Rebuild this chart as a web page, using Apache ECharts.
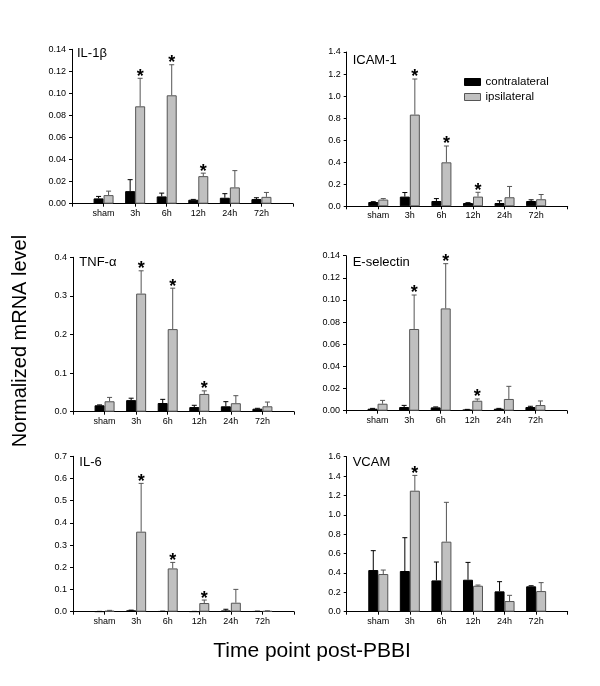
<!DOCTYPE html>
<html><head><meta charset="utf-8">
<script src="https://cdn.jsdelivr.net/npm/echarts@6/dist/echarts.min.js"></script>
<style>html,body{margin:0;padding:0;background:#fff}#c{width:600px;height:686px}</style>
</head><body><div id="c"></div>
<script>
const categories = ['sham', '3h', '6h', '12h', '24h', '72h'];

// IL-1beta
const il1bContra    = [0.0048, 0.0114, 0.0066, 0.0036, 0.0054, 0.0042];
const il1bContraErr = [0.0018, 0.0104, 0.0030, 0.0003, 0.0037, 0.0012];
const il1bIpsi      = [0.0078, 0.0883, 0.0983, 0.0250, 0.0148, 0.0062];
const il1bIpsiErr   = [0.0036, 0.0254, 0.0277, 0.0027, 0.0152, 0.0040];
const il1bSig       = [0, 1, 1, 1, 0, 0];
const il1bTicks     = [0, 0.14, 0.02, 2];

// ICAM-1
const icamContra    = [0.039, 0.088, 0.048, 0.030, 0.030, 0.048];
const icamContraErr = [0.003, 0.037, 0.022, 0.003, 0.020, 0.011];
const icamIpsi      = [0.061, 0.832, 0.399, 0.088, 0.082, 0.064];
const icamIpsiErr   = [0.009, 0.323, 0.148, 0.039, 0.098, 0.043];
const icamSig       = [0, 1, 1, 1, 0, 0];
const icamTicks     = [0, 1.4, 0.2, 1];

// TNF-alpha
const tnfContra     = [0.0166, 0.030, 0.0225, 0.012, 0.014, 0.0078];
const tnfContraErr  = [0.0010, 0.005, 0.0095, 0.0046, 0.012, 0.0010];
const tnfIpsi       = [0.027, 0.306, 0.214, 0.046, 0.022, 0.014];
const tnfIpsiErr    = [0.010, 0.059, 0.106, 0.008, 0.0195, 0.011];
const tnfSig        = [0, 1, 1, 1, 0, 0];
const tnfTicks      = [0, 0.4, 0.1, 1];

// E-selectin
const eselContra    = [0.0018, 0.0033, 0.0030, 0.0010, 0.0018, 0.0033];
const eselContraErr = [0.0003, 0.0015, 0.0004, 0.0002, 0.0003, 0.0007];
const eselIpsi      = [0.0063, 0.0738, 0.0924, 0.0090, 0.0106, 0.0051];
const eselIpsiErr   = [0.0030, 0.0307, 0.0404, 0.0016, 0.0114, 0.0037];
const eselSig       = [0, 1, 1, 1, 0, 0];
const eselTicks     = [0, 0.14, 0.02, 2];

// IL-6
const il6Contra     = [0.001, 0.006, 0.002, 0.001, 0.005, 0.002];
const il6ContraErr  = [0.0005, 0.001, 0.0005, 0.0005, 0.006, 0.0005];
const il6Ipsi       = [0.004, 0.3605, 0.195, 0.039, 0.0405, 0.003];
const il6IpsiErr    = [0.002, 0.2175, 0.027, 0.0135, 0.060, 0.001];
const il6Sig        = [0, 1, 1, 1, 0, 0];
const il6Ticks      = [0, 0.7, 0.1, 1];

// VCAM
const vcamContra    = [0.430, 0.420, 0.323, 0.330, 0.210, 0.262];
const vcamContraErr = [0.200, 0.344, 0.190, 0.179, 0.100, 0.006];
const vcamIpsi      = [0.389, 1.249, 0.723, 0.268, 0.110, 0.213];
const vcamIpsiErr   = [0.041, 0.158, 0.406, 0.007, 0.059, 0.087];
const vcamSig       = [0, 1, 0, 0, 0, 0];
const vcamTicks     = [0, 1.6, 0.2, 1];

const FONT = 'Liberation Sans, Arial, sans-serif';

const panels = [
  {name: 'IL-1β', c: il1bContra, ce: il1bContraErr, i: il1bIpsi, ie: il1bIpsiErr, s: il1bSig, t: il1bTicks,
   grid: {left: 72, top: 49.3, width: 221, height: 154.4}, title: [77, 55]},
  {name: 'ICAM-1', c: icamContra, ce: icamContraErr, i: icamIpsi, ie: icamIpsiErr, s: icamSig, t: icamTicks,
   grid: {left: 346.7, top: 52, width: 221, height: 154.3}, title: [352.7, 62.3]},
  {name: 'TNF-α', c: tnfContra, ce: tnfContraErr, i: tnfIpsi, ie: tnfIpsiErr, s: tnfSig, t: tnfTicks,
   grid: {left: 73, top: 257.3, width: 221, height: 154.4}, title: [79.3, 263.7]},
  {name: 'E-selectin', c: eselContra, ce: eselContraErr, i: eselIpsi, ie: eselIpsiErr, s: eselSig, t: eselTicks,
   grid: {left: 346, top: 255.7, width: 221, height: 155}, title: [352.7, 263.7]},
  {name: 'IL-6', c: il6Contra, ce: il6ContraErr, i: il6Ipsi, ie: il6IpsiErr, s: il6Sig, t: il6Ticks,
   grid: {left: 73, top: 456.3, width: 221, height: 155.4}, title: [79.3, 464.3]},
  {name: 'VCAM', c: vcamContra, ce: vcamContraErr, i: vcamIpsi, ie: vcamIpsiErr, s: vcamSig, t: vcamTicks,
   grid: {left: 346.7, top: 456.7, width: 221, height: 155}, title: [352.7, 464.3]}
];

const xCats = [''].concat(categories, ['']);
const pad = arr => [null].concat(arr, [null]);

function errRender(offset, color) {
  return function (params, api) {
    const idx = api.value(0), m = api.value(1), e = api.value(2), s = api.value(3);
    const base = api.coord([idx, m]);
    const top = api.coord([idx, m + e]);
    const x = base[0] + offset;
    const ch = [
      {type: 'line', shape: {x1: x, y1: base[1], x2: x, y2: top[1]}, style: {stroke: color, lineWidth: 1}},
      {type: 'line', shape: {x1: x - 2.5, y1: top[1], x2: x + 2.5, y2: top[1]}, style: {stroke: color, lineWidth: 1}}
    ];
    if (s) {
      ch.push({type: 'text', x: x, y: top[1] - 1.5,
        style: {text: '*', font: 'bold 18px ' + FONT, fill: '#000', align: 'center', verticalAlign: 'middle'}});
    }
    return {type: 'group', children: ch};
  };
}

const grid = [], xAxis = [], yAxis = [], series = [], title = [];
panels.forEach((p, k) => {
  grid.push(Object.assign({containLabel: false}, p.grid));
  xAxis.push({
    type: 'category', gridIndex: k, data: xCats, boundaryGap: false,
    axisLine: {lineStyle: {color: '#000', width: 1}},
    axisTick: {show: true, length: 3, lineStyle: {color: '#000'}},
    axisLabel: {interval: 0, fontSize: 9, color: '#000', margin: 5, fontFamily: FONT},
    splitLine: {show: false}
  });
  yAxis.push({
    type: 'value', gridIndex: k, min: p.t[0], max: p.t[1], interval: p.t[2],
    axisLine: {show: true, lineStyle: {color: '#000', width: 1}},
    axisTick: {show: true, length: 3, lineStyle: {color: '#000'}},
    axisLabel: {fontSize: 9, color: '#000', margin: 6, fontFamily: FONT,
      formatter: v => v.toFixed(p.t[3])},
    splitLine: {show: false}
  });
  series.push({
    name: 'contralateral', type: 'bar', xAxisIndex: k, yAxisIndex: k, barWidth: 10, barGap: '0%',
    data: pad(p.c), itemStyle: {color: '#000', borderColor: '#000', borderWidth: 1}, silent: true
  });
  series.push({
    name: 'ipsilateral', type: 'bar', xAxisIndex: k, yAxisIndex: k, barWidth: 10, barGap: '0%',
    data: pad(p.i), itemStyle: {color: '#c0c0c0', borderColor: '#555', borderWidth: 1}, silent: true
  });
  series.push({
    type: 'custom', xAxisIndex: k, yAxisIndex: k, z: 5, silent: true,
    renderItem: errRender(-5, '#000'),
    data: p.c.map((v, j) => [j + 1, v, p.ce[j], 0])
  });
  series.push({
    type: 'custom', xAxisIndex: k, yAxisIndex: k, z: 5, silent: true,
    renderItem: errRender(5, '#555'),
    data: p.i.map((v, j) => [j + 1, v, p.ie[j], p.s[j]])
  });
  title.push({
    text: p.name, left: p.title[0], top: p.title[1] - 8, padding: 0,
    textStyle: {fontSize: 13, fontWeight: 'normal', color: '#000', fontFamily: FONT}
  });
});

const chart = echarts.init(document.getElementById('c'), null, {renderer: 'canvas'});
chart.setOption({
  animation: false,
  backgroundColor: '#fff',
  title: title,
  grid: grid, xAxis: xAxis, yAxis: yAxis, series: series,
  legend: {
    orient: 'vertical', left: 464, top: 76, padding: 0, itemWidth: 16, itemHeight: 7, itemGap: 3,
    icon: 'rect', selectedMode: false,
    textStyle: {fontSize: 11.5, color: '#000', fontFamily: FONT},
    data: [
      {name: 'contralateral', itemStyle: {color: '#000', borderColor: '#000', borderWidth: 1}},
      {name: 'ipsilateral', itemStyle: {color: '#c0c0c0', borderColor: '#555', borderWidth: 1}}
    ]
  },
  graphic: [
    {type: 'text', x: 20, y: 341, rotation: Math.PI / 2,
      style: {text: 'Normalized mRNA level', font: '20px ' + FONT, fill: '#000', align: 'center', verticalAlign: 'middle'}},
    {type: 'text', x: 312, y: 651,
      style: {text: 'Time point post-PBBI', font: '21px ' + FONT, fill: '#000', align: 'center', verticalAlign: 'middle'}}
  ]
});
</script>
</body></html>
